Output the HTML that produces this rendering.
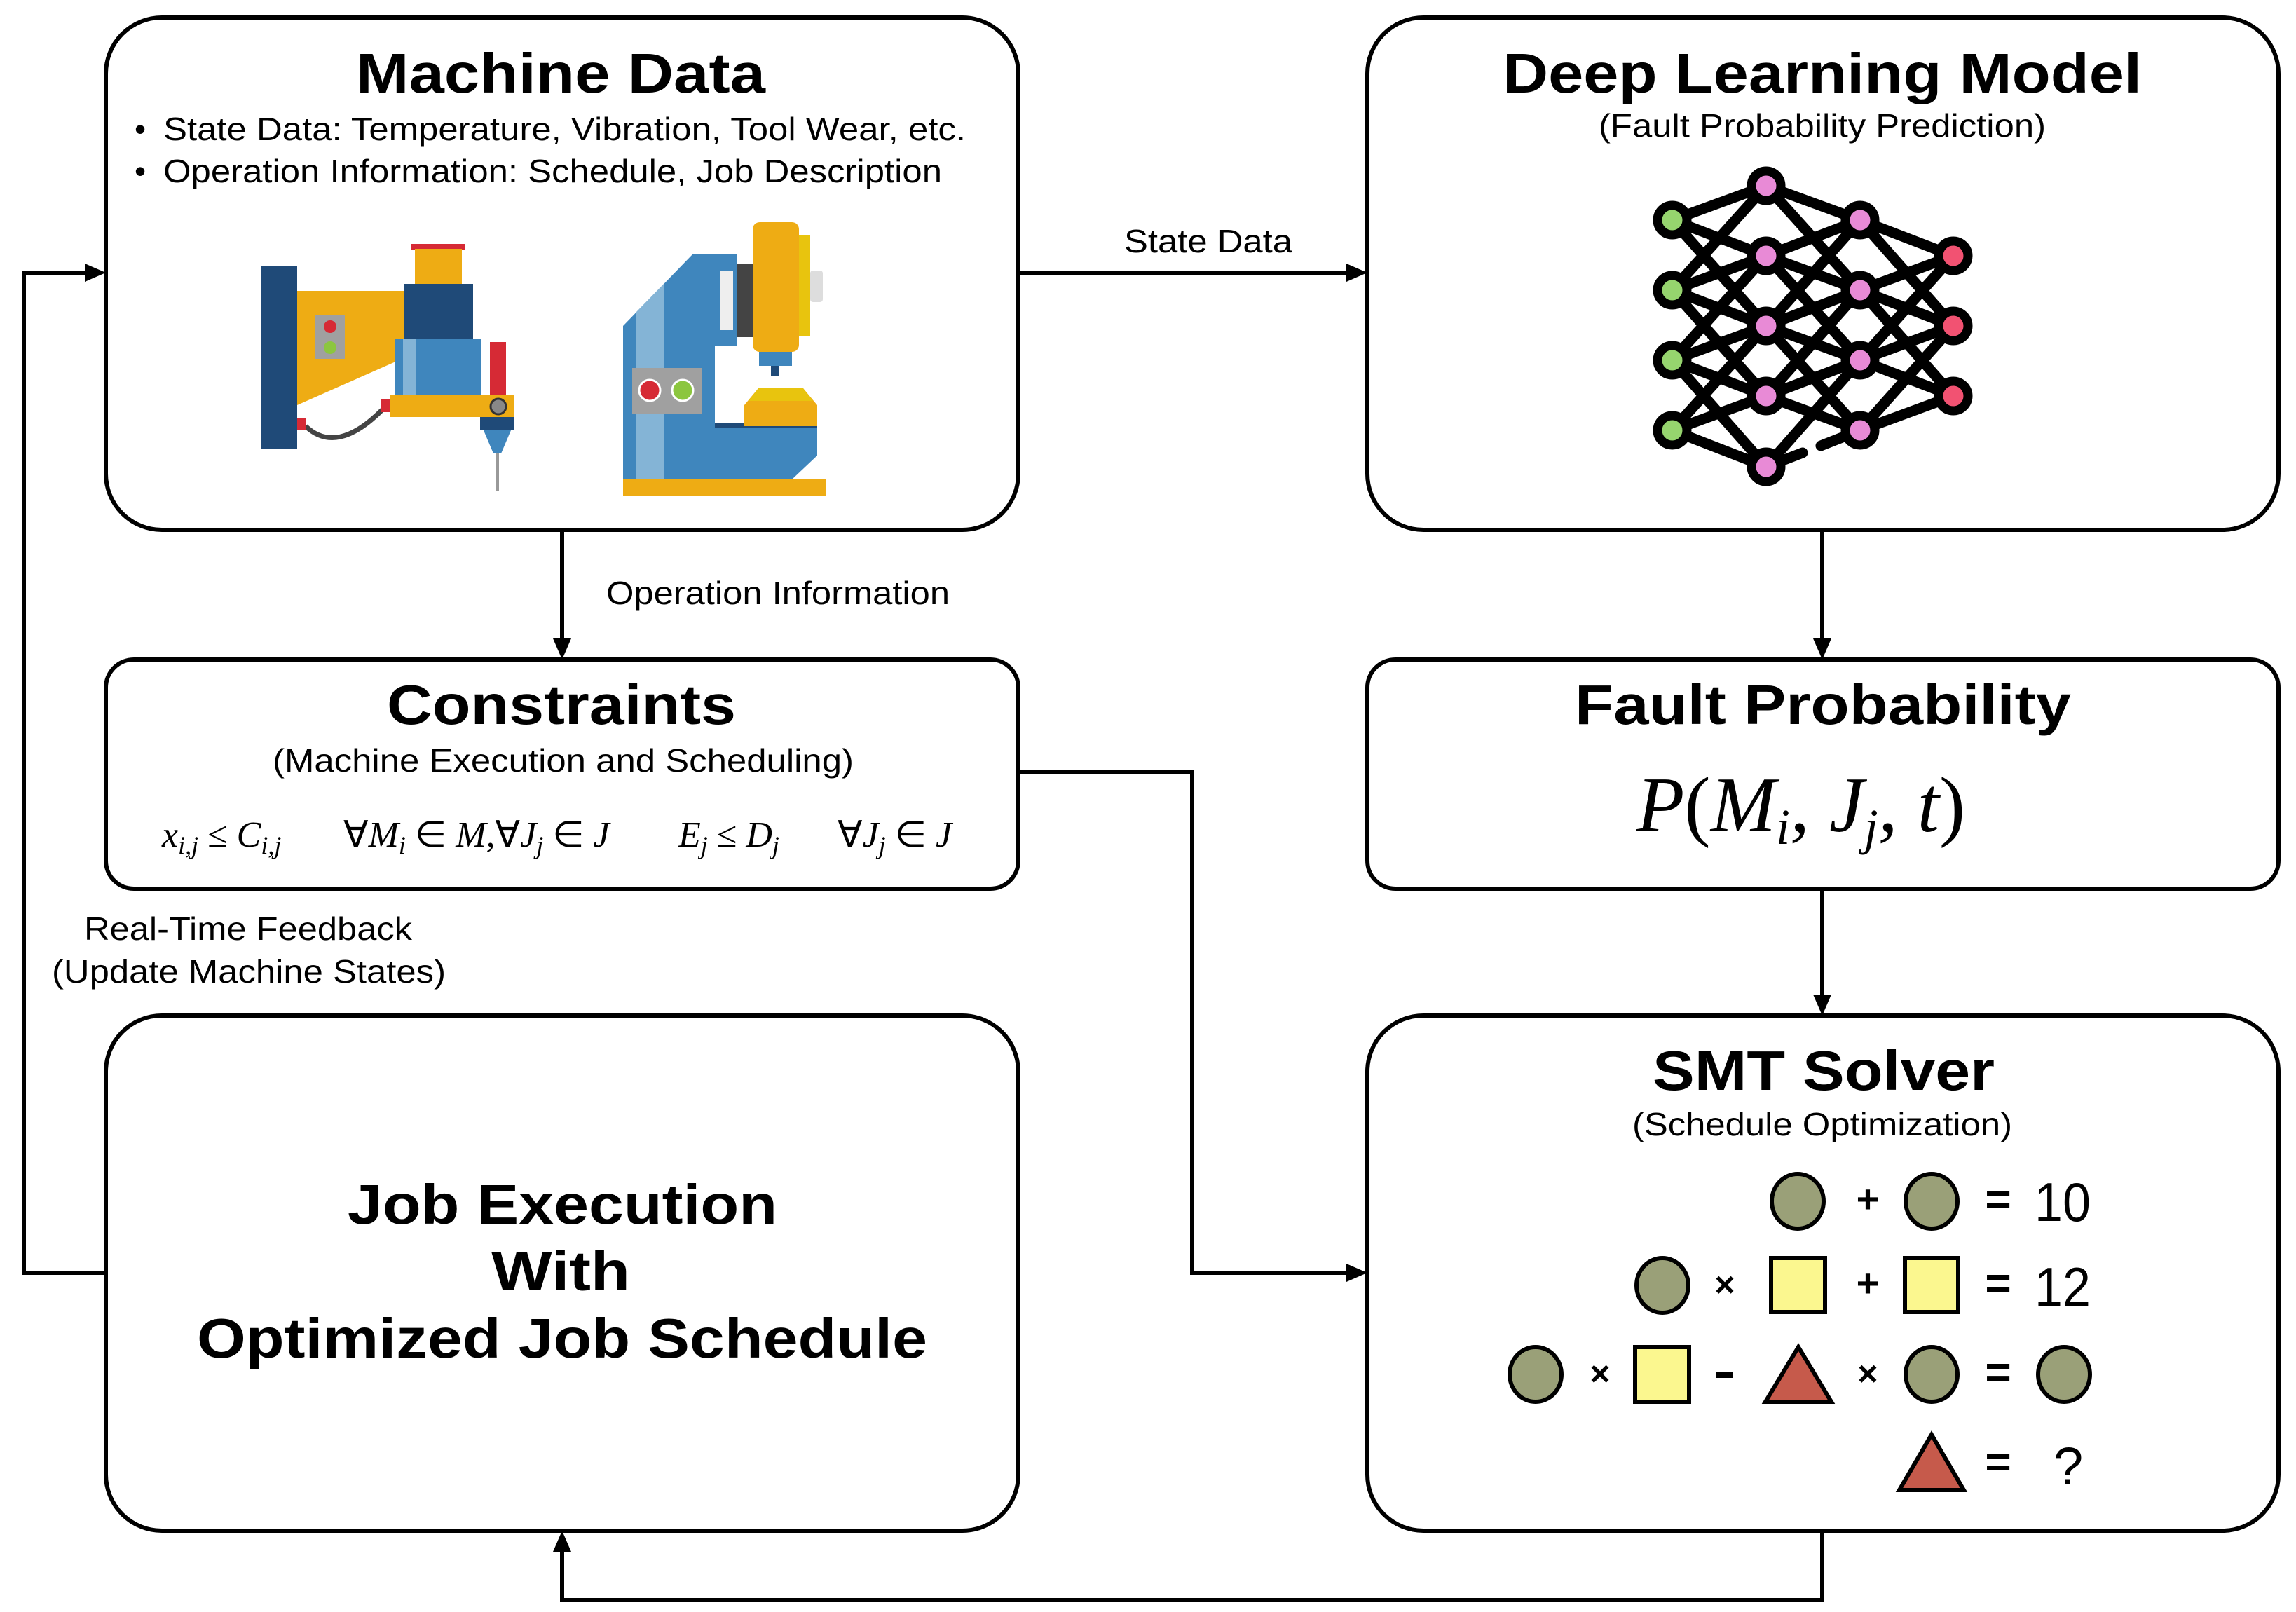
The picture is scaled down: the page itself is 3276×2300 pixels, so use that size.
<!DOCTYPE html>
<html><head><meta charset="utf-8"><style>html,body{margin:0;padding:0;background:#fff}svg{display:block}</style></head>
<body>
<svg width="3276" height="2300" viewBox="0 0 3276 2300" xmlns="http://www.w3.org/2000/svg">
<defs>
<marker id="ah" markerWidth="10" markerHeight="10" refX="9" refY="5" orient="auto" markerUnits="userSpaceOnUse" viewBox="0 0 10 10">
</marker>
</defs>
<g fill="none" stroke="#000" stroke-width="6">
<rect x="151" y="25" width="1302" height="731" rx="80"/>
<rect x="1951" y="25" width="1300" height="731" rx="80"/>
<rect x="151" y="941" width="1302" height="327" rx="40"/>
<rect x="1951" y="941" width="1300" height="327" rx="40"/>
<rect x="151" y="1449" width="1302" height="735" rx="80"/>
<rect x="1951" y="1449" width="1300" height="735" rx="80"/>
<!-- connectors -->
<path d="M1453 389 H1925"/>
<path d="M802 756 V915"/>
<path d="M2600 756 V915"/>
<path d="M2600 1268 V1423"/>
<path d="M1453 1102 H1701 V1816 H1925"/>
<path d="M2600 2184 V2283 H802 V2210"/>
<path d="M151 1816 H34 V389 H125"/>
</g>
<g fill="#000">
<polygon points="1951,389 1921,376 1921,402"/>
<polygon points="802,941 789,911 815,911"/>
<polygon points="2600,941 2587,911 2613,911"/>
<polygon points="2600,1449 2587,1419 2613,1419"/>
<polygon points="1951,1816 1921,1803 1921,1829"/>
<polygon points="802,2184 789,2214 815,2214"/>
<polygon points="151,389 121,376 121,402"/>
</g>
<g font-family="Liberation Sans, sans-serif" fill="#000">
<text x="508" y="132" font-size="80" font-weight="bold" textLength="584" lengthAdjust="spacingAndGlyphs">Machine Data</text>
<text x="192" y="200" font-size="46">•</text>
<text x="233" y="200" font-size="46" textLength="1145" lengthAdjust="spacingAndGlyphs">State Data: Temperature, Vibration, Tool Wear, etc.</text>
<text x="192" y="260" font-size="46">•</text>
<text x="233" y="260" font-size="46" textLength="1111" lengthAdjust="spacingAndGlyphs">Operation Information: Schedule, Job Description</text>
<text x="2144" y="132" font-size="80" font-weight="bold" textLength="912" lengthAdjust="spacingAndGlyphs">Deep Learning Model</text>
<text x="2281" y="195" font-size="46" textLength="638" lengthAdjust="spacingAndGlyphs">(Fault Probability Prediction)</text>
<text x="1604" y="360" font-size="46" textLength="240" lengthAdjust="spacingAndGlyphs">State Data</text>
<text x="865" y="862" font-size="46" textLength="490" lengthAdjust="spacingAndGlyphs">Operation Information</text>
<text x="552" y="1033" font-size="80" font-weight="bold" textLength="498" lengthAdjust="spacingAndGlyphs">Constraints</text>
<text x="389" y="1101" font-size="46" textLength="829" lengthAdjust="spacingAndGlyphs">(Machine Execution and Scheduling)</text>
<text x="2247" y="1033" font-size="80" font-weight="bold" textLength="708" lengthAdjust="spacingAndGlyphs">Fault Probability</text>
<text x="120" y="1341" font-size="46" textLength="468" lengthAdjust="spacingAndGlyphs">Real-Time Feedback</text>
<text x="74" y="1402" font-size="46" textLength="562" lengthAdjust="spacingAndGlyphs">(Update Machine States)</text>
<text x="496" y="1746" font-size="80" font-weight="bold" textLength="613" lengthAdjust="spacingAndGlyphs">Job Execution</text>
<text x="701" y="1841" font-size="80" font-weight="bold" textLength="198" lengthAdjust="spacingAndGlyphs">With</text>
<text x="281" y="1937" font-size="80" font-weight="bold" textLength="1042" lengthAdjust="spacingAndGlyphs">Optimized Job Schedule</text>
<text x="2358" y="1555" font-size="80" font-weight="bold" textLength="488" lengthAdjust="spacingAndGlyphs">SMT Solver</text>
<text x="2329" y="1620" font-size="46" textLength="542" lengthAdjust="spacingAndGlyphs">(Schedule Optimization)</text>
</g>
<!-- math -->
<g font-family="Liberation Serif, serif" fill="#000">
<text x="231" y="1208" font-size="52" font-style="italic">x<tspan font-size="36" dy="10">i,j</tspan><tspan dy="-10" font-style="normal"> ≤ </tspan>C<tspan font-size="36" dy="10">i,j</tspan></text>
<text x="490" y="1208" font-size="52" font-style="italic"><tspan font-style="normal">∀</tspan>M<tspan font-size="36" dy="10">i</tspan><tspan dy="-10" font-style="normal"> ∈ </tspan>M,<tspan font-style="normal">∀</tspan>J<tspan font-size="36" dy="10">j</tspan><tspan dy="-10" font-style="normal"> ∈ </tspan>J</text>
<text x="968" y="1208" font-size="52" font-style="italic">E<tspan font-size="36" dy="10">j</tspan><tspan dy="-10" font-style="normal"> ≤ </tspan>D<tspan font-size="36" dy="10">j</tspan></text>
<text x="1195" y="1208" font-size="52" font-style="italic"><tspan font-style="normal">∀</tspan>J<tspan font-size="36" dy="10">j</tspan><tspan dy="-10" font-style="normal"> ∈ </tspan>J</text>
<text x="2335" y="1186" font-size="112" font-style="italic">P<tspan font-style="normal">(</tspan>M<tspan font-size="72" dy="18">i</tspan><tspan dy="-18">, </tspan>J<tspan font-size="72" dy="18">j</tspan><tspan dy="-18">, </tspan>t<tspan font-style="normal">)</tspan></text>
</g>
<!-- machine 1 -->
<g>
<rect x="373" y="379" width="51" height="262" fill="#1f4a78"/>
<polygon points="424,415 578,415 578,510 424,578" fill="#eeac14"/>
<rect x="450" y="450" width="42" height="62" fill="#a0a0a0"/>
<circle cx="471" cy="466" r="9" fill="#d62a35"/>
<circle cx="471" cy="496" r="9" fill="#8cc63f"/>
<rect x="586" y="348" width="78" height="8" fill="#d62a35"/>
<rect x="592" y="355" width="67" height="50" fill="#eeac14"/>
<rect x="577" y="405" width="98" height="78" fill="#1f4a78"/>
<rect x="563" y="483" width="124" height="81" fill="#3f86bd"/>
<rect x="575" y="483" width="18" height="81" fill="#84b4d6"/>
<rect x="699" y="488" width="23" height="76" fill="#d62a35"/>
<rect x="557" y="564" width="177" height="31" fill="#eeac14"/>
<circle cx="711" cy="580" r="11" fill="#888" stroke="#333" stroke-width="3"/>
<rect x="685" y="595" width="49" height="19" fill="#1f4a78"/>
<polygon points="690,614 729,614 715,647 704,647" fill="#3f86bd"/>
<rect x="707" y="647" width="5" height="53" fill="#999"/>
<path d="M436 608 Q480 650 545 585" fill="none" stroke="#444" stroke-width="7"/>
<rect x="424" y="596" width="12" height="18" fill="#d62a35"/>
<rect x="543" y="570" width="14" height="18" fill="#d62a35"/>
</g>
<!-- machine 2 -->
<g>
<rect x="889" y="684" width="290" height="23" fill="#eeac14"/>
<polygon points="889,684 889,465 988,363 1051,363 1051,493 1020,493 1020,608 1166,608 1166,650 1130,684" fill="#3f86bd"/>
<polygon points="908,684 908,445 947,405 947,684" fill="#84b4d6"/>
<rect x="1020" y="604" width="146" height="6" fill="#1f4a78"/>
<rect x="902" y="525" width="99" height="65" fill="#a0a0a0"/>
<circle cx="927" cy="557" r="15" fill="#d62a35" stroke="#fff" stroke-width="3"/>
<circle cx="974" cy="557" r="15" fill="#8cc63f" stroke="#fff" stroke-width="3"/>
<rect x="1027" y="386" width="19" height="85" fill="#eee"/>
<rect x="1051" y="377" width="23" height="104" fill="#444"/>
<rect x="1074" y="317" width="66" height="185" rx="10" fill="#eeac14"/>
<rect x="1140" y="335" width="16" height="145" fill="#e8c40e"/>
<rect x="1156" y="386" width="18" height="45" rx="4" fill="#ddd"/>
<rect x="1083" y="502" width="47" height="20" fill="#3f86bd"/>
<rect x="1100" y="522" width="12" height="14" fill="#1f4a78"/>
<polygon points="1082,554 1146,554 1166,578 1166,608 1062,608 1062,578" fill="#eeac14"/>
<polygon points="1082,554 1146,554 1160,572 1068,572" fill="#e8c40e"/>
</g>
<!-- neural net -->
<g stroke="#000" stroke-width="15" stroke-linecap="round">
<path d="M2386 314 L2520 265 M2386 314 L2520 365 M2386 314 L2520 465 M2386 414 L2520 265 M2386 414 L2520 365 M2386 414 L2520 465 M2386 414 L2520 565 M2386 514 L2520 365 M2386 514 L2520 465 M2386 514 L2520 565 M2386 514 L2520 666 M2386 614 L2520 465 M2386 614 L2520 565 M2386 614 L2520 666"/>
<path d="M2520 265 L2654 314 M2520 265 L2654 414 M2520 365 L2654 314 M2520 365 L2654 414 M2520 365 L2654 514 M2520 465 L2654 314 M2520 465 L2654 414 M2520 465 L2654 514 M2520 465 L2654 614 M2520 565 L2654 414 M2520 565 L2654 514 M2520 565 L2654 614 M2520 666 L2654 514 M2520 666 L2572 646 M2598 636 L2654 614"/>
<path d="M2654 314 L2787 365 M2654 314 L2787 465 M2654 414 L2787 365 M2654 414 L2787 465 M2654 414 L2787 565 M2654 514 L2787 365 M2654 514 L2787 465 M2654 514 L2787 565 M2654 614 L2787 465 M2654 614 L2787 565"/>
</g>
<g stroke="#000" stroke-width="13">
<g fill="#96d46e"><circle cx="2386" cy="314" r="21"/><circle cx="2386" cy="414" r="21"/><circle cx="2386" cy="514" r="21"/><circle cx="2386" cy="614" r="21"/></g>
<g fill="#e88ad6"><circle cx="2520" cy="265" r="21"/><circle cx="2520" cy="365" r="21"/><circle cx="2520" cy="465" r="21"/><circle cx="2520" cy="565" r="21"/><circle cx="2520" cy="666" r="21"/>
<circle cx="2654" cy="314" r="21"/><circle cx="2654" cy="414" r="21"/><circle cx="2654" cy="514" r="21"/><circle cx="2654" cy="614" r="21"/></g>
<g fill="#f25272"><circle cx="2787" cy="365" r="21"/><circle cx="2787" cy="465" r="21"/><circle cx="2787" cy="565" r="21"/></g>
</g>
<!-- SMT puzzle -->
<g stroke="#000" stroke-width="6">
<g fill="#9aa078">
<ellipse cx="2565" cy="1714" rx="37" ry="39"/><ellipse cx="2756" cy="1714" rx="37" ry="39"/>
<ellipse cx="2372" cy="1834" rx="37" ry="39"/>
<ellipse cx="2191" cy="1961" rx="37" ry="39"/><ellipse cx="2756" cy="1961" rx="37" ry="39"/><ellipse cx="2945" cy="1961" rx="37" ry="39"/>
</g>
<g fill="#fbf78f">
<rect x="2527" y="1795" width="77" height="77"/><rect x="2718" y="1795" width="76" height="77"/>
<rect x="2333" y="1922" width="77" height="78"/>
</g>
<g fill="#c65a4b">
<polygon points="2566,1922 2613,2000 2519,2000"/>
<polygon points="2756,2047 2802,2126 2710,2126"/>
</g>
</g>
<g font-family="Liberation Sans, sans-serif" font-weight="bold" fill="#000" text-anchor="middle">
<text x="2665" y="1730" font-size="56">+</text>
<text x="2665" y="1850" font-size="56">+</text>
<text x="2851" y="1732" font-size="64">=</text>
<text x="2851" y="1852" font-size="64">=</text>
<text x="2851" y="1979" font-size="64">=</text>
<text x="2851" y="2107" font-size="64">=</text>
<text x="2461" y="1850" font-size="50">×</text>
<text x="2283" y="1977" font-size="50">×</text>
<text x="2665" y="1977" font-size="50">×</text>
<rect x="2449" y="1957" width="24" height="9"/>
</g>
<g font-family="Liberation Sans, sans-serif" fill="#000">
<text x="2903" y="1742" font-size="78" textLength="80" lengthAdjust="spacingAndGlyphs">10</text>
<text x="2903" y="1863" font-size="78" textLength="80" lengthAdjust="spacingAndGlyphs">12</text>
<text x="2930" y="2118" font-size="76">?</text>
</g>
</svg>
</body></html>
